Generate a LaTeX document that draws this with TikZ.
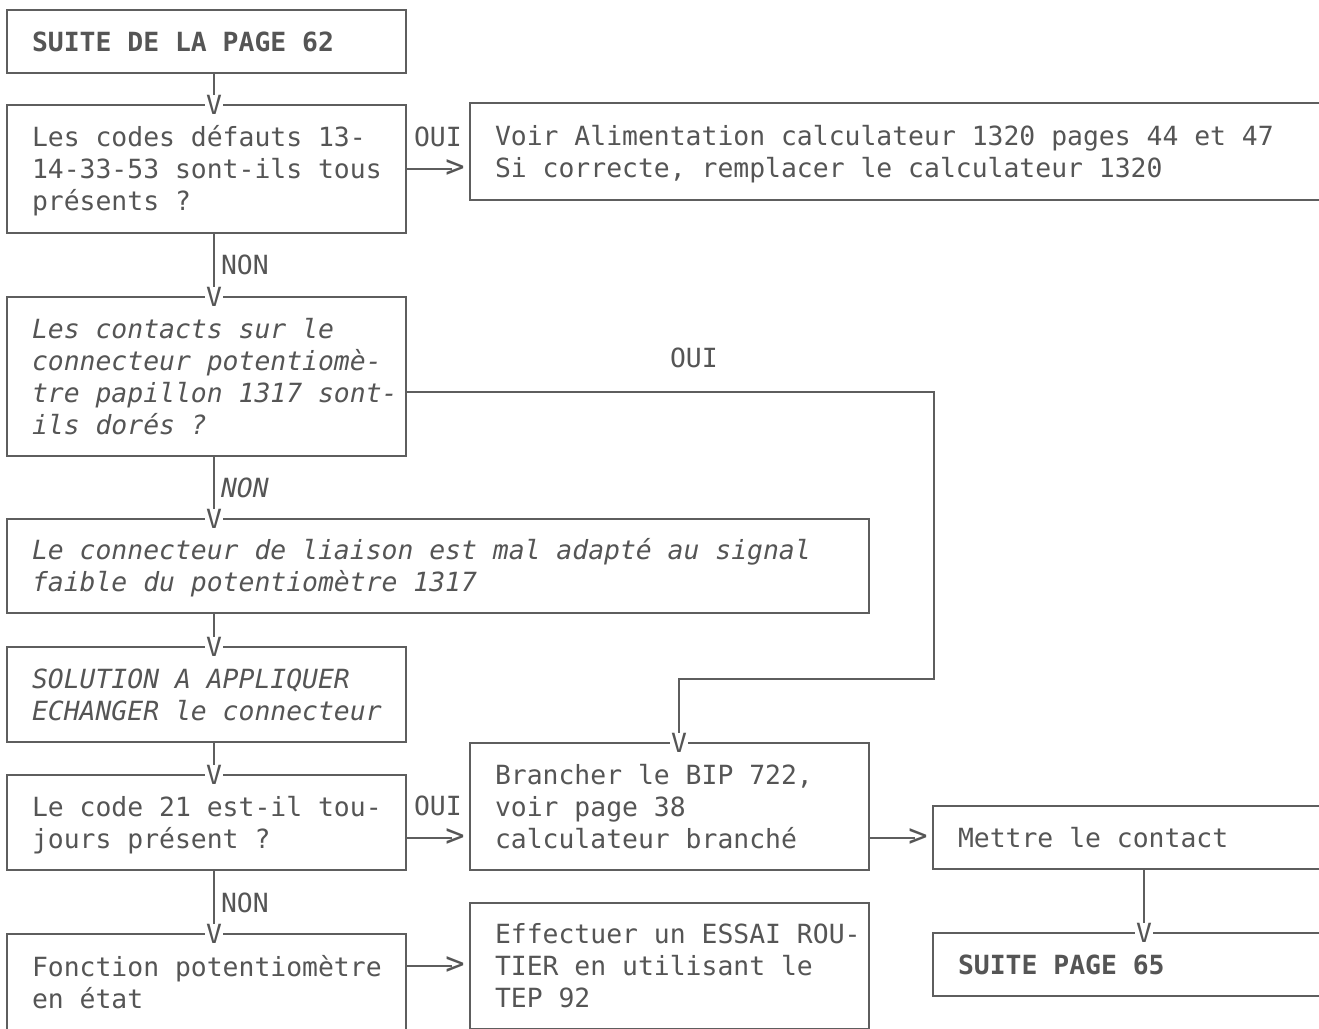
\documentclass[tikz,border=0pt]{standalone}
\usepackage{fontspec}
\newfontfamily\dmono{DejaVu Sans Mono}
\definecolor{ink}{HTML}{555555}
\definecolor{rule}{HTML}{5E5E5E}
\tikzset{
  txt/.style={font=\dmono\fontsize{26.4pt}{32pt}\selectfont, text=ink},
  box/.style={txt, draw=rule, line width=2pt, rectangle, anchor=north west,
    inner xsep=0pt, inner ysep=0pt, outer sep=0pt, align=left,
    execute at begin node={\leftskip=25pt\relax\spaceskip=0.6021em\relax\xspaceskip=0.6021em\relax\rule{0pt}{26pt}},
    execute at end node={\rule[-7pt]{0pt}{7pt}}},
  itbox/.style={box, font=\dmono\itshape\fontsize{26.4pt}{32pt}\selectfont},
  bfbox/.style={box, font=\dmono\bfseries\fontsize{26.4pt}{32pt}\selectfont},
  conn/.style={draw=rule, line width=2pt},
  vtip/.style={txt, fill=white, inner xsep=1.5pt, inner ysep=0pt, outer sep=0pt},
  gtip/.style={txt, font=\dmono\fontsize{32pt}{32pt}\selectfont, inner sep=0pt, outer sep=0pt},
  lbl/.style={txt, inner sep=0pt, outer sep=0pt, anchor=west},
  itlbl/.style={lbl, font=\dmono\itshape\fontsize{26.4pt}{32pt}\selectfont},
}
\begin{document}
\begin{tikzpicture}[x=1pt,y=-1pt]
\useasboundingbox (0,0) rectangle (1319,1028);
\fill[white] (0,0) rectangle (1319,1028);
\clip (0,0) rectangle (1319,1028);

% boxes
\node[bfbox, text width=399pt, minimum height=63pt] (s62) at (7,10) {SUITE DE LA PAGE 62};
\node[box, text width=399pt, minimum height=128pt] (q1) at (7,105) {Les codes défauts 13-\\14-33-53 sont-ils tous\\présents ?};
\node[box, text width=870pt, minimum height=97pt] (voir) at (470,103) {Voir Alimentation calculateur 1320 pages 44 et 47\\Si correcte, remplacer le calculateur 1320};
\node[itbox, text width=399pt, minimum height=159pt] (q2) at (7,297) {Les contacts sur le\\connecteur potentiomè-\\tre papillon 1317 sont-\\ils dorés ?};
\node[itbox, text width=862pt, minimum height=94pt] (liaison) at (7,519) {Le connecteur de liaison est mal adapté au signal\\faible du potentiomètre 1317};
\node[itbox, text width=399pt, minimum height=95pt] (sol) at (7,647) {SOLUTION A APPLIQUER\\ECHANGER le connecteur};
\node[box, text width=399pt, minimum height=95pt] (q3) at (7,775) {Le code 21 est-il tou-\\jours présent ?};
\node[box, text width=399pt, minimum height=127pt] (bip) at (470,743) {Brancher le BIP 722,\\voir page 38\\calculateur branché};
\node[box, text width=400pt, minimum height=63pt] (mettre) at (933,806) {Mettre le contact};
\node[box, text width=399pt, minimum height=97pt] (fonc) at (7,934) {Fonction potentiomètre\\en état};
\node[box, text width=399pt, minimum height=126pt] (essai) at (470,903) {Effectuer un ESSAI ROU-\\TIER en utilisant le\\TEP 92};
\node[bfbox, text width=400pt, minimum height=63pt] (s65) at (933,933) {SUITE PAGE 65};

% vertical connectors with V tips
\draw[conn] ([xshift=7.5pt]s62.south) -- ([xshift=7.5pt]q1.north) node[vtip] (v1) {V};
\draw[conn] ([xshift=7.5pt]q1.south) -- ([xshift=7.5pt]q2.north) node[vtip] (v2) {V};
\draw[conn] ([xshift=7.5pt]q2.south) -- ([xshift=7.5pt]q2.south |- liaison.north) node[vtip] (v3) {V};
\draw[conn] ([xshift=7.5pt]sol.north |- liaison.south) -- ([xshift=7.5pt]sol.north) node[vtip] (v4) {V};
\draw[conn] ([xshift=7.5pt]sol.south) -- ([xshift=7.5pt]q3.north) node[vtip] (v5) {V};
\draw[conn] ([xshift=7.5pt]q3.south) -- ([xshift=7.5pt]fonc.north) node[vtip] (v6) {V};
\draw[conn] ([xshift=11pt]mettre.south) -- ([xshift=11pt]s65.north) node[vtip] (v7) {V};

% OUI branch from q2 to bip
\coordinate (k2) at (679,679);
\draw[conn] ([yshift=-15.5pt]q2.east) -- ++(528,0) |- (k2) -- (k2 |- bip.north) node[vtip] (v8) {V};

% horizontal connectors with > tips
\draw[conn] (q1.east) -- ([xshift=-18pt]voir.west |- q1.east);
\node[gtip] (g1) at ([xshift=-15pt]voir.west |- q1.east) {>};
\draw[conn] ([yshift=-15.5pt]q3.east) -- ([xshift=-18pt,yshift=-15.5pt]bip.west |- q3.east);
\node[gtip] (g2) at ([xshift=-15pt,yshift=-15.5pt]bip.west |- q3.east) {>};
\draw[conn] (bip.east |- mettre.west) -- ([xshift=-18pt]mettre.west);
\node[gtip] (g3) at ([xshift=-15pt]mettre.west) {>};
\draw[conn] (fonc.east |- essai.west) -- ([xshift=-18pt]essai.west);
\node[gtip] (g4) at ([xshift=-15pt]essai.west) {>};

% labels
\node[lbl] (l1) at (414,137) {OUI};
\node[lbl] (l2) at (221,265) {NON};
\node[lbl] (l3) at (670,358) {OUI};
\node[itlbl] (l4) at (221,488) {NON};
\node[lbl] (l5) at (414,806) {OUI};
\node[lbl] (l6) at (221,903) {NON};
\end{tikzpicture}
\end{document}
